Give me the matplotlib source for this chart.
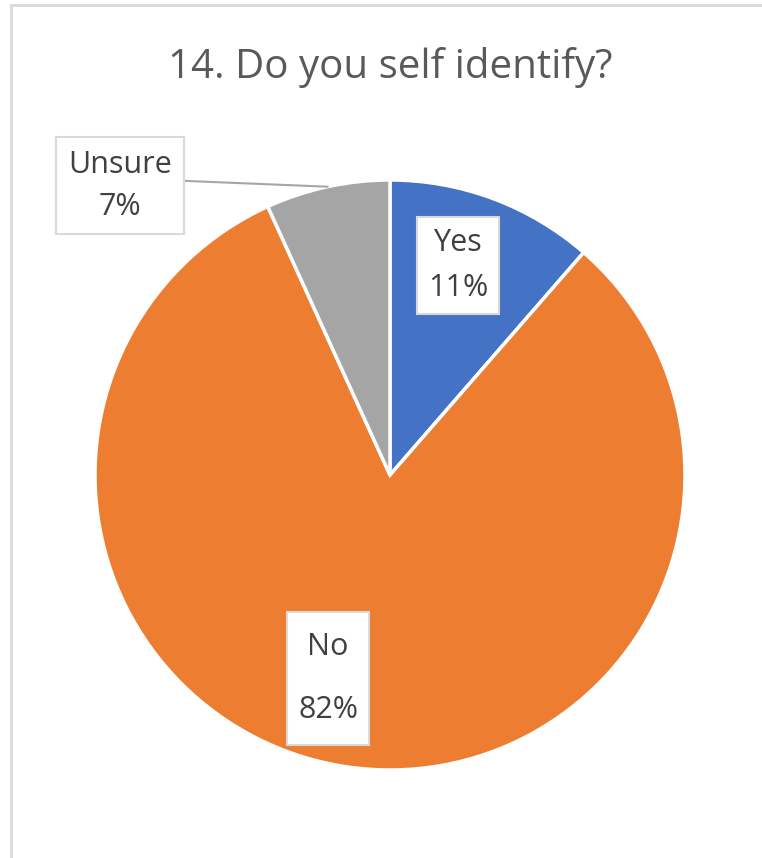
import numpy as np
import matplotlib
matplotlib.use("Agg")
import matplotlib.pyplot as plt
from matplotlib.lines import Line2D

plt.rcParams['font.family'] = ['Open Sans', 'DejaVu Sans']

# data
categories = ['Yes', 'No', 'Unsure']
shares = [11.4, 81.8, 6.8]
pct_labels = ['11%', '82%', '7%']
colors = ['#4472C4', '#ED7D31', '#A5A5A5']
title = '14. Do you self identify?'

fig = plt.figure(figsize=(7.62, 8.58), dpi=100)

# chart area frame (only top and left edges visible in the crop)
fig.add_artist(Line2D([11 / 762, 11 / 762], [0, 1 - 5 / 858], color='#d9d9d9', lw=2))
fig.add_artist(Line2D([11 / 762, 1], [1 - 5 / 858, 1 - 5 / 858], color='#d9d9d9', lw=2))

fig.text(390 / 762, 1 - 68 / 858, title, ha='center', va='center',
         fontsize=29, color='#595959')

ax = fig.add_axes([95 / 762, 88 / 858, 590 / 762, 590 / 858])
wedges, _ = ax.pie(shares, colors=colors, startangle=90, counterclock=False,
                   radius=1, wedgeprops=dict(edgecolor='white', linewidth=2.5))
ax.set_xlim(-1, 1)
ax.set_ylim(-1, 1)
ax.set_aspect('equal')
ax.axis('off')

txt = dict(fontsize=22, color='#404040', ha='center', va='center')


def box(pad, aspect=1.0):
    return dict(boxstyle=f'square,pad={pad}', facecolor='white', edgecolor='#d9d9d9',
                linewidth=1.5, mutation_aspect=aspect)


# Yes label
ax.text(0.23, 0.71, categories[0] + '\n' + pct_labels[0], linespacing=1.67, bbox=box(0.35), **txt)
# No label
ax.text(-0.21, -0.69, categories[1] + '\n' + pct_labels[1], linespacing=2.44,
        bbox=box(0.35, 1.9), **txt)
# Unsure label, outside with leader line
ax.text(-0.915, 0.98, categories[2] + '\n' + pct_labels[2], linespacing=1.55,
        bbox=box(0.4), clip_on=False, **txt)
w = wedges[2]
mid = np.deg2rad((w.theta1 + w.theta2) / 2)
ax.plot([-0.695, np.cos(mid)], [0.997, np.sin(mid)], color='#a6a6a6', lw=1.5, clip_on=False)

fig.savefig('out.png', dpi=100)
